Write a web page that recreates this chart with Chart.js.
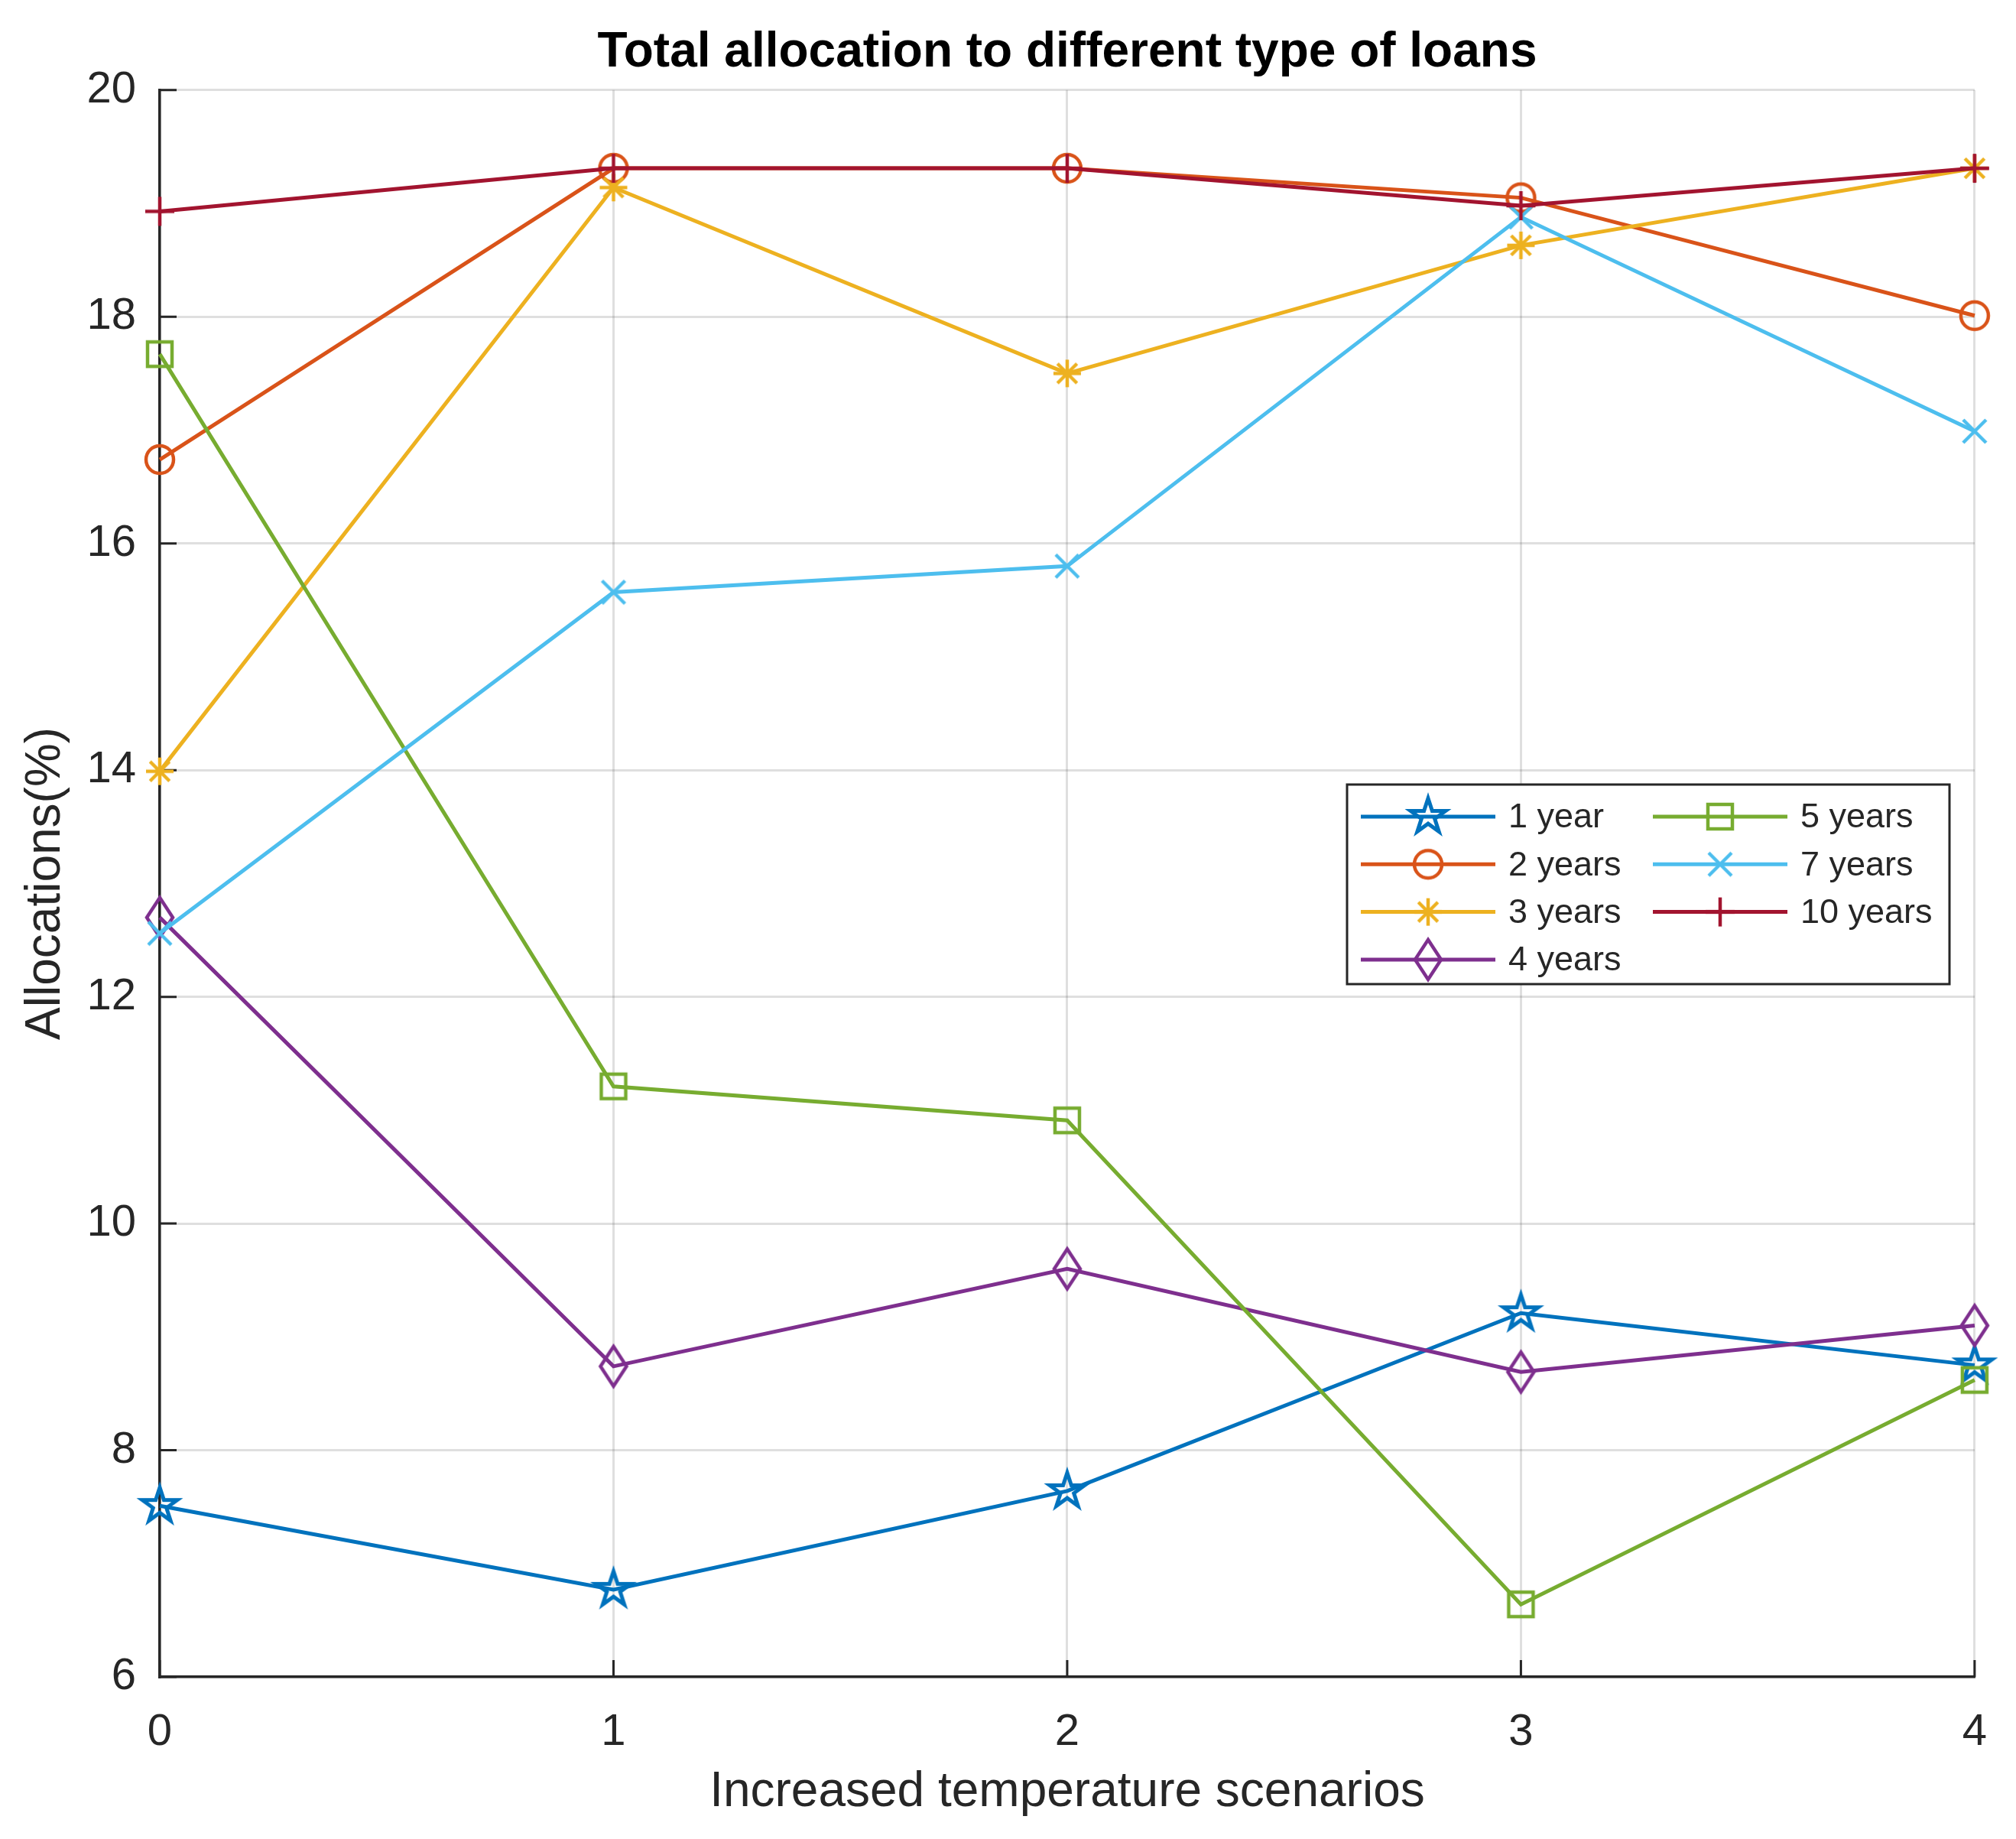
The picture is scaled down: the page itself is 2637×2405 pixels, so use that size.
<!DOCTYPE html>
<html>
<head>
<meta charset="utf-8">
<script src="https://cdn.jsdelivr.net/npm/chart.js@4.4.0/dist/chart.umd.min.js"></script>
<style>
    html, body { margin: 0; padding: 0; background: #fff; }
    canvas { display: block; }
</style>
</head>
<body>
<canvas id="myChart" width="2637" height="2405" style="width:2637px;height:2405px"></canvas>
<script>
// scenario index on the x axis
const scenarios = [0, 1, 2, 3, 4];
const seriesNames = ['1 year', '2 years', '3 years', '4 years', '5 years', '7 years', '10 years'];

// allocation (%) per scenario
const oneYear    = [7.51, 6.77, 7.64, 9.21, 8.75];
const twoYears   = [16.74, 19.31, 19.31, 19.05, 18.01];
const threeYears = [13.99, 19.14, 17.50, 18.63, 19.31];
const fourYears  = [12.70, 8.74, 9.60, 8.69, 9.10];
const fiveYears  = [17.67, 11.21, 10.91, 6.64, 8.62];
const sevenYears = [12.56, 15.57, 15.80, 18.88, 16.99];
const tenYears   = [18.93, 19.31, 19.31, 18.98, 19.31];

const yTicks = [6, 8, 10, 12, 14, 16, 18, 20];

const allSeries = [oneYear, twoYears, threeYears, fourYears, fiveYears, sevenYears, tenYears];
const colors = ['#0072BD', '#D95319', '#EDB120', '#7E2F8E', '#77AC30', '#4DBEEE', '#A2142F'];
const shapes = ['pentagram', 'circle', 'asterisk', 'diamond', 'square', 'x', 'plus'];

const FONT = "'Liberation Sans', Arial, Helvetica, sans-serif";
const TEXT = '#262626';

// marker sprites so the plot and the legend use the same glyph
function makeMarker(shape, color) {
    const s = 66;
    const c = document.createElement('canvas');
    c.width = s; c.height = s;
    const g = c.getContext('2d');
    g.translate(s / 2, s / 2);
    g.strokeStyle = color;
    g.lineWidth = 4.5;
    g.lineJoin = 'miter';
    g.beginPath();
    if (shape === 'pentagram') {
        const ro = 24, ri = ro * 0.382;
        g.lineWidth = 5;
        for (let i = 0; i < 10; i++) {
            const r = i % 2 === 0 ? ro : ri;
            const a = -Math.PI / 2 + i * Math.PI / 5;
            if (i === 0) g.moveTo(r * Math.cos(a), r * Math.sin(a));
            else g.lineTo(r * Math.cos(a), r * Math.sin(a));
        }
        g.closePath();
    } else if (shape === 'circle') {
        g.arc(0, 0, 18, 0, Math.PI * 2);
    } else if (shape === 'asterisk') {
        for (let i = 0; i < 4; i++) {
            const a = i * Math.PI / 4;
            g.moveTo(-18 * Math.cos(a), -18 * Math.sin(a));
            g.lineTo(18 * Math.cos(a), 18 * Math.sin(a));
        }
    } else if (shape === 'diamond') {
        g.moveTo(0, -26); g.lineTo(17, 0); g.lineTo(0, 26); g.lineTo(-17, 0);
        g.closePath();
    } else if (shape === 'square') {
        g.rect(-16, -16, 32, 32);
    } else if (shape === 'x') {
        g.moveTo(-15, -15); g.lineTo(15, 15);
        g.moveTo(15, -15); g.lineTo(-15, 15);
    } else if (shape === 'plus') {
        g.moveTo(-19, 0); g.lineTo(19, 0);
        g.moveTo(0, -19); g.lineTo(0, 19);
    }
    g.stroke();
    return c;
}

const markers = shapes.map((sh, i) => makeMarker(sh, colors[i]));

const datasets = allSeries.map((vals, i) => ({
    label: seriesNames[i],
    data: vals.map((v, j) => ({ x: scenarios[j], y: v })),
    borderColor: colors[i],
    backgroundColor: colors[i],
    borderWidth: 5,
    pointStyle: markers[i],
    pointRadius: 20,
    pointHoverRadius: 20,
    tension: 0,
    clip: false,
    order: allSeries.length - i
}));

// MATLAB style ticks that point into the axes
const innerTicks = {
    id: 'innerTicks',
    beforeDatasetsDraw(chart) {
        const { ctx, chartArea, scales } = chart;
        ctx.save();
        ctx.strokeStyle = TEXT;
        ctx.lineWidth = 3;
        ctx.beginPath();
        scales.y.ticks.forEach(t => {
            const y = scales.y.getPixelForValue(t.value);
            ctx.moveTo(chartArea.left, y);
            ctx.lineTo(chartArea.left + 22, y);
        });
        scales.x.ticks.forEach(t => {
            const x = scales.x.getPixelForValue(t.value);
            ctx.moveTo(x, chartArea.bottom);
            ctx.lineTo(x, chartArea.bottom - 22);
        });
        ctx.stroke();
        ctx.restore();
    }
};

// two column legend box, filled column by column
const LEGEND = { left: 1762, top: 1026, right: 2550, bottom: 1287, rowGap: 62.3, firstRow: 42,
                 cols: [1780, 2162], lineLen: 176, textGap: 193, rows: 4 };

const boxLegend = {
    id: 'boxLegend',
    afterDraw(chart) {
        const { ctx } = chart;
        const L = LEGEND;
        ctx.save();
        ctx.fillStyle = '#fff';
        ctx.fillRect(L.left, L.top, L.right - L.left, L.bottom - L.top);
        ctx.strokeStyle = TEXT;
        ctx.lineWidth = 3;
        ctx.strokeRect(L.left, L.top, L.right - L.left, L.bottom - L.top);
        ctx.font = '45px ' + FONT;
        ctx.textBaseline = 'middle';
        ctx.textAlign = 'left';
        chart.data.datasets.forEach((ds, i) => {
            const col = Math.floor(i / L.rows);
            const row = i % L.rows;
            const x0 = L.cols[col];
            const y = L.top + L.firstRow + row * L.rowGap;
            ctx.strokeStyle = ds.borderColor;
            ctx.lineWidth = 5;
            ctx.beginPath();
            ctx.moveTo(x0, y);
            ctx.lineTo(x0 + L.lineLen, y);
            ctx.stroke();
            const m = ds.pointStyle;
            ctx.drawImage(m, x0 + L.lineLen / 2 - m.width / 2, y - m.height / 2);
            ctx.fillStyle = TEXT;
            ctx.fillText(ds.label, x0 + L.textGap, y + 2);
        });
        ctx.restore();
    }
};

const ctx = document.getElementById('myChart').getContext('2d');
new Chart(ctx, {
    type: 'line',
    data: { datasets: datasets },
    plugins: [innerTicks, boxLegend],
    options: {
        responsive: false,
        animation: false,
        devicePixelRatio: 1,
        events: [],
        layout: { padding: { left: 0, right: 52, top: 0, bottom: 0 } },
        plugins: {
            legend: { display: false },
            tooltip: { enabled: false },
            title: {
                display: true,
                fullSize: false,
                text: 'Total allocation to different type of loans',
                color: '#000',
                font: { family: FONT, size: 64, weight: 'bold', lineHeight: 1.2 },
                padding: { top: 31, bottom: 10 }
            }
        },
        scales: {
            x: {
                type: 'linear',
                min: 0,
                max: 4,
                afterFit(scale) { scale.height = 212; },
                ticks: {
                    stepSize: 1,
                    color: TEXT,
                    padding: 38,
                    font: { family: FONT, size: 58 }
                },
                grid: { color: 'rgba(38,38,38,0.15)', lineWidth: 3, drawTicks: false },
                border: { display: true, color: TEXT, width: 3.5 },
                title: {
                    display: true,
                    text: 'Increased temperature scenarios',
                    color: TEXT,
                    font: { family: FONT, size: 64, lineHeight: 1.2 },
                    padding: { top: 0, bottom: 22 }
                }
            },
            y: {
                min: 6,
                max: 20,
                afterFit(scale) { scale.width = 209; },
                afterBuildTicks(scale) { scale.ticks = yTicks.map(v => ({ value: v })); },
                ticks: {
                    color: TEXT,
                    padding: 31,
                    font: { family: FONT, size: 58 }
                },
                grid: { color: 'rgba(38,38,38,0.15)', lineWidth: 3, drawTicks: false },
                border: { display: true, color: TEXT, width: 3.5 },
                title: {
                    display: true,
                    text: 'Allocations(%)',
                    color: TEXT,
                    font: { family: FONT, size: 64, lineHeight: 1.2 },
                    padding: { top: 22, bottom: 0 }
                }
            }
        }
    }
});
</script>
</body>
</html>
